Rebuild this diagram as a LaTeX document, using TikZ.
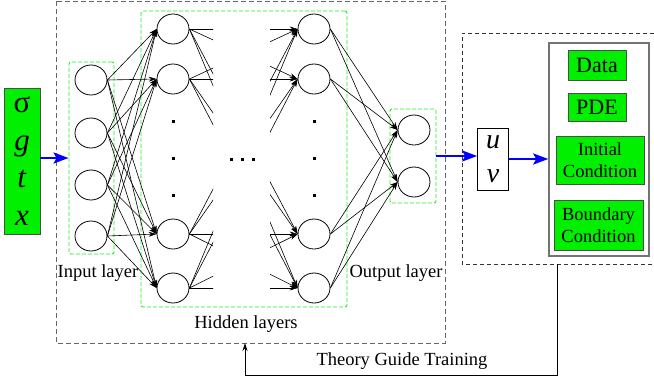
\documentclass[tikz,border=0pt]{standalone}
\usepackage{fontspec}
\setmainfont{Liberation Serif}
\usetikzlibrary{arrows.meta,shapes.geometric}
\definecolor{boxgreen}{RGB}{0,240,0}
\definecolor{dashgreen}{RGB}{30,240,30}
\newcommand\lblsize{\fontsize{18.5}{22}\selectfont}
\tikzset{
  neuron/.style={draw, ellipse, minimum width=32pt, minimum height=30pt, inner sep=0pt, line width=0.8pt},
  conn/.style={-{Stealth[length=8pt,width=5pt]}, line width=0.6pt},
  layerbox/.style={draw=dashgreen, dash pattern=on 4pt off 2pt, line width=0.9pt, rounded corners=2pt, inner sep=0pt},
  flowarrow/.style={-{Stealth[length=15pt,width=11pt,inset=3pt]}, draw=blue, line width=2.4pt},
  greenbox/.style={draw=black!70, fill=boxgreen, line width=0.8pt, inner sep=0pt, align=center},
}
\begin{document}
\begin{tikzpicture}[x=1pt,y=-1pt]
      \useasboundingbox (0,0) rectangle (654,381);

      % Network frame and loss frame
      \draw[black!60, dash pattern=on 5pt off 3pt, line width=1pt] (56,1) rectangle (445,343);
      \draw[black!80, dash pattern=on 4pt off 3pt, line width=0.8pt] (654,33) -| (462,264) -- (654,264);
      \coordinate (tgstart) at (557,264);
      \coordinate (tgend) at (245,343);

      % Layer boxes
      \node[layerbox, minimum width=45pt, minimum height=192pt] (inlayer) at (91.5,158) {};
      \node[layerbox, minimum width=206pt, minimum height=296pt] (hidlayer) at (244,159) {};
      \node[layerbox, minimum width=46pt, minimum height=94pt] (outlayer) at (413,156) {};

      % Inputs
      \node[greenbox, minimum width=36pt, minimum height=146pt, font=\fontsize{31}{37.7}\selectfont] (vars) at (22,161)
        {σ\\\textit{g}\\\textit{t}\\\textit{x}};

      % Neurons
      \foreach \y [count=\i] in {80,133,185,236}
        \node[neuron] (in\i) at (91,\y) {};
      \foreach \y [count=\i] in {29,79,234,288} {
        \node[neuron] (a\i) at (173,\y) {};
        \node[neuron] (b\i) at (314,\y) {};
      }
      \node[neuron] (o1) at (414,130) {};
      \node[neuron] (o2) at (414,182) {};

      % Dots
      \foreach \y in {121,158,195} {
        \fill (171.5,\y-1.5) rectangle +(3,3);
        \fill (312.5,\y-1.5) rectangle +(3,3);
      }
      \foreach \x in {231,242,253}
        \fill (\x-1.5,157.5) rectangle +(3,3);

      % Connections
      \foreach \i in {1,...,4}
        \foreach \j in {1,...,4}
          \draw[conn] (in\i.east) -- (a\j.west);
      \begin{scope}
        \clip (141,0) rectangle (213,381) (270,0) rectangle (347,381);
        \foreach \i in {1,...,4}
          \foreach \j in {1,...,4}
            \draw[conn] (a\i.east) -- (b\j.west);
      \end{scope}
      \foreach \i in {1,...,4}
        \foreach \j in {1,2}
          \draw[conn] (b\i.east) -- (o\j.west);

      % Labels
      \node[font=\lblsize] (inlabel) at (98,273) {Input layer};
      \node[font=\lblsize] (outlabel) at (396,273) {Output layer};
      \node[font=\lblsize] (hidlabel) at (246,324) {Hidden layers};

      % Outputs and losses
      \node[draw, line width=0.7pt, minimum width=31pt, minimum height=62pt, inner sep=0pt, align=center,
        font=\fontsize{28}{34}\selectfont] (uv) at (493,159) {\textit{u}\\\textit{v}};
      \node[draw=black!55, line width=1.5pt, minimum width=100pt, minimum height=213pt] (losses) at (599,149.5) {};
      \node[greenbox, minimum width=58pt, minimum height=30pt, font=\fontsize{22}{26}\selectfont] (data) at (597,65) {Data};
      \node[greenbox, minimum width=58pt, minimum height=28pt, font=\fontsize{22}{26}\selectfont] (pde) at (597,107) {PDE};
      \node[greenbox, minimum width=88pt, minimum height=48pt, font=\lblsize] (ic) at (600,160) {Initial\\Condition};
      \node[greenbox, minimum width=89pt, minimum height=50pt, font=\lblsize] (bc) at (598.5,225) {Boundary\\Condition};

      % Flow arrows
      \draw[flowarrow] (vars.east |- inlayer.west) -- (inlayer.west);
      \draw[flowarrow] (outlayer.east) -- (outlayer.east -| uv.west);
      \draw[flowarrow] (uv.east) -- (uv.east -| losses.west);

      % Feedback
      \draw[-{Stealth[length=8pt,width=5pt]}, line width=0.8pt] (tgstart) -- ++(0,111) -| (tgend);
      \node[font=\lblsize] (tglabel) at (402,361) {Theory Guide Training};
\end{tikzpicture}
\end{document}
